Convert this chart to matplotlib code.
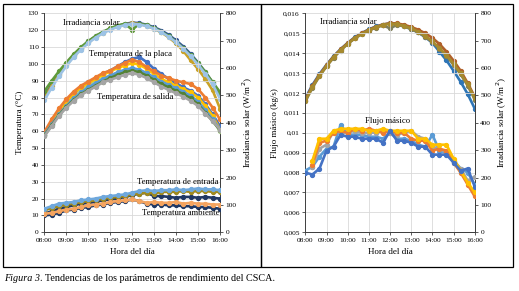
import numpy as np
import matplotlib.pyplot as plt
from matplotlib.patches import Rectangle

plt.rcParams['font.family'] = ['Liberation Serif', 'DejaVu Serif']

# --- Data (20-minute readings, 08:00 to 16:00) ---
hours = np.arange(25) * (20 / 60) + 8
hour_ticks = [8, 9, 10, 11, 12, 13, 14, 15, 16]
hour_labels = ['08:00', '09:00', '10:00', '11:00', '12:00', '13:00', '14:00', '15:00', '16:00']

# left panel: solar irradiance (W/m2), four days
irr_blue = [495, 540, 580, 615, 647, 673, 697, 716, 731, 744, 754, 761, 766, 764, 758, 749, 737, 721, 701, 678, 651, 620, 585, 547, 505]
irr_gold = [490, 535, 576, 612, 643, 670, 694, 713, 729, 742, 752, 759, 763, 761, 754, 744, 730, 712, 690, 662, 628, 596, 560, 518, 452]
irr_green = [515, 553, 588, 620, 650, 676, 698, 717, 732, 745, 755, 762, 740, 762, 756, 746, 733, 716, 696, 672, 646, 618, 585, 548, 512]
irr_light = [482, 528, 570, 607, 640, 667, 691, 711, 727, 740, 750, 757, 761, 759, 753, 744, 731, 714, 694, 670, 643, 612, 578, 540, 488]

# plate temperature (C)
plate_blue = [58, 65, 71.5, 77, 82, 86, 89, 91.5, 94, 96, 98.5, 101, 103, 104, 101, 97, 94, 91, 88.5, 86, 84, 81, 76, 70, 63]
plate_yellow = [58, 65.5, 72, 77.5, 82.5, 86, 88.5, 91, 93.5, 95.5, 97.5, 99, 100.5, 99.5, 97, 94, 91, 89, 87, 85, 83, 80, 75, 69, 61]
plate_green = [57, 64, 70, 75.5, 80, 84, 87, 89.5, 91.5, 93, 94.5, 95.5, 96.5, 95.5, 93.5, 91, 88.5, 86.5, 84.5, 82.5, 80.5, 77.5, 72.5, 67, 60]
plate_orange = [59.5, 67, 73.5, 79, 83.5, 87, 89.5, 92, 94.5, 96, 98.5, 100.5, 102.5, 101, 98, 95.5, 93, 91.5, 90, 89, 88, 85, 80, 74, 67]

# outlet temperature (C)
out_light = [58, 64, 70, 75, 79.5, 83, 86, 88.5, 91, 93, 95, 96.5, 97.5, 96.5, 94.5, 92, 89.5, 87.5, 85.5, 83.5, 81, 77.5, 72.5, 67, 61]
out_green = [57.5, 63.5, 69.5, 74.5, 78.5, 82, 84.5, 87, 89.5, 91.5, 93.5, 95, 96, 95, 93, 90.5, 88, 86, 84, 82, 79.5, 76, 71, 66, 60.5]
out_gray = [57, 63, 69, 74, 78, 81.5, 84, 86.5, 89, 90.5, 92, 93.5, 94.5, 93.5, 91.5, 89, 86.5, 84.5, 82.5, 80.5, 78, 75, 70.5, 66, 61]

# inlet temperature (C)
in_light = [14, 15.5, 17, 17.5, 18, 19, 19.5, 20, 21, 21.5, 22, 22.5, 23.5, 24.5, 25, 24.5, 25, 25, 25.5, 25, 25.5, 26, 25.5, 25.5, 25]
in_olive = [13, 14.5, 15.5, 16.5, 17, 18, 18.5, 19, 20, 20.5, 21, 21.5, 22.5, 23, 23.5, 23, 24, 24, 24, 24.5, 24, 24.5, 24.5, 24, 24]
in_navy = [11, 12.5, 14, 15, 16, 17, 17.5, 18, 19, 19.5, 20, 21, 22, 23, 23.5, 21.5, 21.5, 21, 20.5, 21, 21, 20.5, 21, 20.5, 20]

# ambient temperature (C)
amb_navy = [10, 10.5, 11.5, 13, 13.5, 14.5, 15, 16, 16.5, 17.5, 18, 18.5, 19.5, 18.5, 17, 16.5, 16.5, 16, 16, 15.5, 15.5, 15, 15, 14.5, 14]
amb_orange = [11, 11.5, 12.5, 13.5, 14, 15, 16, 16.5, 17, 18, 18.5, 19, 19.5, 18.5, 17.5, 18, 17.5, 17.5, 18, 17, 17.5, 17, 17, 16.5, 16.5]

# right panel: solar irradiance (W/m2)
r_irr_blue = [490, 538, 578, 612, 643, 669, 692, 712, 728, 741, 752, 759, 763, 760, 753, 743, 730, 713, 692, 660, 628, 590, 550, 505, 452]
r_irr_gray = [478, 528, 570, 606, 638, 664, 688, 708, 724, 737, 748, 756, 745, 758, 752, 742, 730, 714, 694, 670, 644, 612, 577, 536, 485]
r_irr_orange = [485, 535, 575, 610, 642, 668, 691, 711, 727, 740, 751, 759, 764, 763, 758, 750, 740, 727, 710, 688, 660, 627, 590, 545, 495]
r_irr_gold = [480, 530, 572, 607, 640, 666, 689, 709, 725, 738, 749, 757, 762, 760, 754, 745, 733, 717, 697, 673, 647, 616, 581, 540, 490]

# mass flow (kg/s)
nan = np.nan
flow_light = [0.0081, 0.0083, 0.0088, 0.0092, 0.0093, 0.0104, 0.0099, 0.0099, 0.0099, 0.0098, 0.0098, 0.0097, 0.0100, 0.0097, 0.0097, 0.0096, 0.0094, 0.0093, 0.0099, 0.0091, 0.0090, 0.0086, 0.0082, 0.0080, 0.0074]
flow_gray = [nan, 0.0083, 0.0092, 0.0094, 0.0101, 0.0100, 0.0100, 0.0101, 0.0100, 0.0100, 0.0100, 0.0101, 0.0100, 0.0099, 0.0100, 0.0101, 0.0098, 0.0097, 0.0093, 0.0092, 0.0090, 0.0086, 0.0082, 0.0076, 0.0078]
flow_orange = [nan, 0.0084, 0.0095, 0.0096, 0.0100, 0.0101, 0.0100, 0.0102, 0.0101, 0.0102, 0.0101, 0.0100, 0.0101, 0.0100, 0.0100, 0.0097, 0.0096, 0.0096, 0.0091, 0.0092, 0.0091, 0.0085, 0.0080, 0.0074, 0.0068]
flow_yellow = [nan, 0.0086, 0.0097, 0.0097, 0.0101, 0.0102, 0.0102, 0.0102, 0.0102, 0.0101, 0.0101, 0.0102, 0.0101, 0.0101, 0.0101, 0.0101, 0.0097, 0.0097, 0.0094, 0.0094, 0.0094, 0.0087, 0.0081, 0.0075, 0.0070]
flow_blue = [0.0080, 0.0079, 0.0082, 0.0091, 0.0093, 0.0099, 0.0098, 0.0098, 0.0097, 0.0097, 0.0097, 0.0095, 0.0101, 0.0096, 0.0096, 0.0095, 0.0093, 0.0093, 0.0089, 0.0089, 0.0089, 0.0085, 0.0081, 0.0082, 0.0073]

flow_ticks = [0.005, 0.006, 0.007, 0.008, 0.009, 0.010, 0.011, 0.012, 0.013, 0.014, 0.015, 0.016]
flow_labels = ['0,005', '0,006', '0,007', '0,008', '0,009', '0,01', '0,011', '0,012', '0,013', '0,014', '0,015', '0,016']

TICK_FS = 5.3
LABEL_FS = 6.5
NOTE_FS = 6.2
GRID = '#d9d9d9'


def series(ax, y, color):
    ax.plot(hours, y, color=color, lw=1.9, marker='o', ms=2.8, mec=color, zorder=3)


def style_axes(ax, ax2):
    ax.set_xlim(8, 16)
    ax.set_xticks(hour_ticks)
    ax.set_xticklabels(hour_labels)
    ax.grid(True, color=GRID, lw=0.6)
    ax.set_axisbelow(True)
    for a in (ax, ax2):
        a.tick_params(labelsize=TICK_FS, length=2.5, width=0.6, pad=1.5, color='#404040')
        a.spines['top'].set_visible(False)
        for s in ('left', 'right', 'bottom'):
            a.spines[s].set_color('#404040')
            a.spines[s].set_linewidth(0.7)
    ax.set_xlabel('Hora del día', fontsize=LABEL_FS, labelpad=4)
    ax2.set_ylim(0, 800)
    ax2.set_yticks(range(0, 801, 100))
    ax2.set_ylabel('Irradiancia solar (W/m$^2$)', fontsize=LABEL_FS, labelpad=3)


fig = plt.figure(figsize=(5.19, 2.91), dpi=100)

# --- left panel ---
ax = fig.add_axes([0.0854, 0.2017, 0.3385, 0.7526])
ax2 = ax.twinx()
ax.set_zorder(ax2.get_zorder() + 1)
ax.patch.set_visible(False)

series(ax2, irr_blue, '#2f5597')
series(ax2, irr_gold, '#c9a227')
series(ax2, irr_green, '#5f9a3a')
series(ax2, irr_light, '#9dc3e6')

series(ax, plate_blue, '#4472c4')
series(ax, plate_green, '#a9d18e')
series(ax, plate_yellow, '#ffc000')
series(ax, plate_orange, '#ed7d31')
series(ax, out_light, '#5b9bd5')
series(ax, out_green, '#548235')
series(ax, out_gray, '#a5a5a5')
series(ax, in_navy, '#203864')
series(ax, in_olive, '#a08a1e')
series(ax, in_light, '#6fa8dc')
series(ax, amb_navy, '#1f3864')
series(ax, amb_orange, '#f4a460')

ax.set_ylim(0, 130)
ax.set_yticks(range(0, 131, 10))
ax.set_ylabel('Temperatura (°C)', fontsize=LABEL_FS, labelpad=3)
style_axes(ax, ax2)

ax.text(10.12, 124.4, 'Irradiancia solar', fontsize=NOTE_FS, ha='center', va='center', zorder=5)
ax.text(11.94, 105.7, 'Temperatura de la placa', fontsize=NOTE_FS, ha='center', va='center', zorder=5)
ax.text(12.15, 80.3, 'Temperatura de salida', fontsize=NOTE_FS, ha='center', va='center', zorder=5)
ax.text(14.08, 30.0, 'Temperatura de entrada', fontsize=NOTE_FS, ha='center', va='center', zorder=5)
ax.text(14.19, 11.6, 'Temperatura ambiente', fontsize=NOTE_FS, ha='center', va='center', zorder=5)

# --- right panel ---
bx = fig.add_axes([0.5883, 0.2017, 0.3264, 0.7526])
bx2 = bx.twinx()

series(bx2, r_irr_blue, '#2e75b6')
series(bx2, r_irr_gray, '#7f7f5a')
series(bx2, r_irr_orange, '#b0602a')
series(bx2, r_irr_gold, '#a68a2e')

bx.set_zorder(bx2.get_zorder() + 1)
bx.patch.set_visible(False)
series(bx, flow_light, '#5b9bd5')
series(bx, flow_gray, '#a5a5a5')
series(bx, flow_orange, '#ed7d31')
series(bx, flow_yellow, '#ffc000')
series(bx, flow_blue, '#4472c4')

bx.set_ylim(0.005, 0.016)
bx.set_yticks(flow_ticks)
bx.set_yticklabels(flow_labels)
bx.set_ylabel('Flujo másico (kg/s)', fontsize=LABEL_FS, labelpad=3)
style_axes(bx, bx2)

bx.text(10.04, 0.01555, 'Irradiancia solar', fontsize=NOTE_FS, ha='center', va='center', zorder=5)
bx.text(11.86, 0.01059, 'Flujo másico', fontsize=NOTE_FS, ha='center', va='center', zorder=5)

# panel frames
fig.add_artist(Rectangle((3 / 519, 1 - 267 / 291), 257.5 / 519, 263 / 291,
                         transform=fig.transFigure, fill=False, ec='black', lw=0.9))
fig.add_artist(Rectangle((260.5 / 519, 1 - 267 / 291), 252.5 / 519, 263 / 291,
                         transform=fig.transFigure, fill=False, ec='black', lw=0.9))

# caption: italic part, then the rest placed right after it
cap = fig.text(4 / 519, 1 - 283 / 291, 'Figura 3', style='italic', fontsize=7.3,
               va='bottom', ha='left')
fig.add_artist(plt.Annotation('. Tendencias de los parámetros de rendimiento del CSCA.',
                              xy=(1, 0), xycoords=cap, va='bottom', ha='left', fontsize=7.3))

fig.savefig('out.png', dpi=100)
